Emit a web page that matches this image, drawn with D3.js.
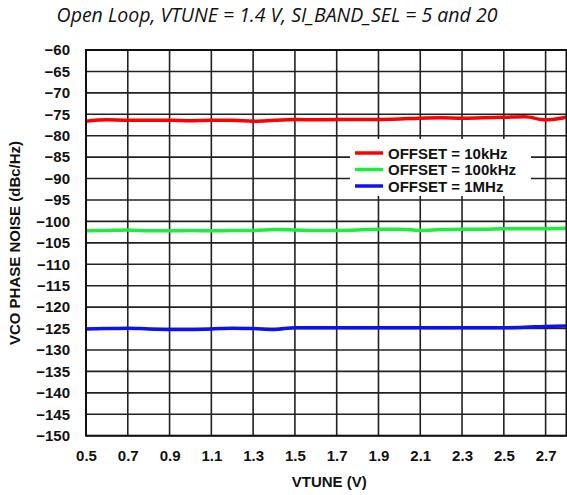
<!DOCTYPE html>
<html>
<head>
<meta charset="utf-8">
<script src="https://cdn.jsdelivr.net/npm/d3@7"></script>
<style>
  html, body { margin: 0; padding: 0; background: #fff; }
  svg { display: block; }
  .tick-label { font-family: "Liberation Sans", Arial, sans-serif; font-weight: bold; font-size: 15px; fill: #111; }
</style>
</head>
<body>
<div id="chart"></div>
<script>
// Tuning voltage sweep points (V)
const vtune = [0.5, 0.6, 0.7, 0.8, 0.9, 1.0, 1.1, 1.2, 1.3, 1.4, 1.5, 1.6,
               1.7, 1.8, 1.9, 2.0, 2.1, 2.2, 2.3, 2.4, 2.5, 2.6, 2.7, 2.8];

// Phase noise at each offset (dBc/Hz)
const offset10kHz = [-76.6, -76.3, -76.4, -76.4, -76.4, -76.5, -76.4, -76.4, -76.6, -76.4, -76.2, -76.3,
                     -76.2, -76.2, -76.2, -76.1, -75.9, -75.8, -75.9, -75.8, -75.7, -75.6, -76.3, -75.7];
const offset100kHz = [-102.2, -102.1, -102.0, -102.2, -102.2, -102.1, -102.2, -102.1, -102.1, -101.9, -102.0, -102.1,
                      -102.1, -102.0, -101.8, -101.8, -102.1, -101.9, -101.8, -101.8, -101.7, -101.7, -101.7, -101.6];
const offset1MHz = [-125.1, -125.0, -124.9, -125.1, -125.2, -125.2, -125.1, -124.9, -125.0, -125.2, -124.8, -124.8,
                    -124.8, -124.8, -124.8, -124.8, -124.8, -124.8, -124.8, -124.8, -124.8, -124.7, -124.5, -124.4];

const seriesNames = ["OFFSET = 10kHz", "OFFSET = 100kHz", "OFFSET = 1MHz"];
const seriesColors = ["#ff0000", "#18f03a", "#1010f0"];

// Axis ticks
const xTicks = [0.5, 0.7, 0.9, 1.1, 1.3, 1.5, 1.7, 1.9, 2.1, 2.3, 2.5, 2.7];
const yTicks = [-60, -65, -70, -75, -80, -85, -90, -95, -100, -105, -110, -115,
                -120, -125, -130, -135, -140, -145, -150];

const titleText = "Open Loop, VTUNE = 1.4 V, SI_BAND_SEL = 5 and 20";
const xTitle = "VTUNE (V)";
const yTitle = "VCO PHASE NOISE (dBc/Hz)";

const W = 567, H = 495;
const plot = { left: 86, right: 566.5, top: 50, bottom: 435.7 };

const svg = d3.select("#chart").append("svg").attr("width", W).attr("height", H);

const x = d3.scaleLinear().domain([0.5, 2.8]).range([plot.left, plot.right]);
const y = d3.scaleLinear().domain([-150, -60]).range([plot.bottom, plot.top]);

// Title
svg.append("text")
  .attr("x", 277).attr("y", 22)
  .attr("text-anchor", "middle")
  .style("font-family", "'Open Sans', 'Noto Sans', sans-serif")
  .style("font-style", "italic")
  .style("font-size", "19.5px")
  .style("fill", "#111")
  .text(titleText);

// Grid
const grid = svg.append("g").attr("stroke", "#222").attr("stroke-width", 1.6);
grid.selectAll("line.h").data(yTicks).join("line")
  .attr("x1", plot.left).attr("x2", plot.right)
  .attr("y1", d => y(d)).attr("y2", d => y(d));
grid.selectAll("line.v").data(xTicks).join("line")
  .attr("y1", plot.top).attr("y2", plot.bottom)
  .attr("x1", d => x(d)).attr("x2", d => x(d));

// Tick labels from d3 axes (axis lines removed; the grid and frame carry the rules)
const yAxis = svg.append("g")
  .attr("transform", `translate(${plot.left},0)`)
  .call(d3.axisLeft(y).tickValues(yTicks).tickFormat(d3.format("d")).tickSize(0).tickPadding(16));
const xAxis = svg.append("g")
  .attr("transform", `translate(0,${plot.bottom})`)
  .call(d3.axisBottom(x).tickValues(xTicks).tickFormat(d3.format(".1f")).tickSize(0).tickPadding(15));
[xAxis, yAxis].forEach(a => {
  a.select(".domain").remove();
  a.selectAll("text").attr("class", "tick-label").attr("fill", null);
});

// Legend background
svg.append("rect")
  .attr("x", 350).attr("y", 139).attr("width", 181).attr("height", 57)
  .attr("fill", "#fff");

// Series lines
const lineGen = d3.line().x(d => x(d[0])).y(d => y(d[1])).curve(d3.curveMonotoneX);
const allSeries = [offset10kHz, offset100kHz, offset1MHz];
svg.append("g").selectAll("path").data(allSeries).join("path")
  .attr("d", vals => lineGen(vtune.map((v, i) => [v, vals[i]])))
  .attr("fill", "none")
  .attr("stroke", (d, i) => seriesColors[i])
  .attr("stroke-width", 3.5)
  .attr("stroke-linejoin", "round")
  .attr("stroke-linecap", "butt");

// Frame
svg.append("rect")
  .attr("x", plot.left).attr("y", plot.top)
  .attr("width", plot.right - plot.left).attr("height", plot.bottom - plot.top)
  .attr("fill", "none").attr("stroke", "#111").attr("stroke-width", 2);

// Legend entries
const legend = svg.append("g");
seriesNames.forEach((name, i) => {
  const ly = 153 + i * 16.5;
  legend.append("line")
    .attr("x1", 355).attr("x2", 383).attr("y1", ly).attr("y2", ly)
    .attr("stroke", seriesColors[i]).attr("stroke-width", 3.5);
  legend.append("text")
    .attr("x", 388).attr("y", ly + 5.5)
    .attr("class", "tick-label")
    .text(name);
});

// Axis titles
svg.append("text")
  .attr("x", (plot.left + plot.right) / 2 + 3).attr("y", 487)
  .attr("text-anchor", "middle")
  .attr("class", "tick-label")
  .text(xTitle);
svg.append("text")
  .attr("transform", `translate(20,243) rotate(-90)`)
  .attr("text-anchor", "middle")
  .attr("class", "tick-label")
  .text(yTitle);
</script>
</body>
</html>
